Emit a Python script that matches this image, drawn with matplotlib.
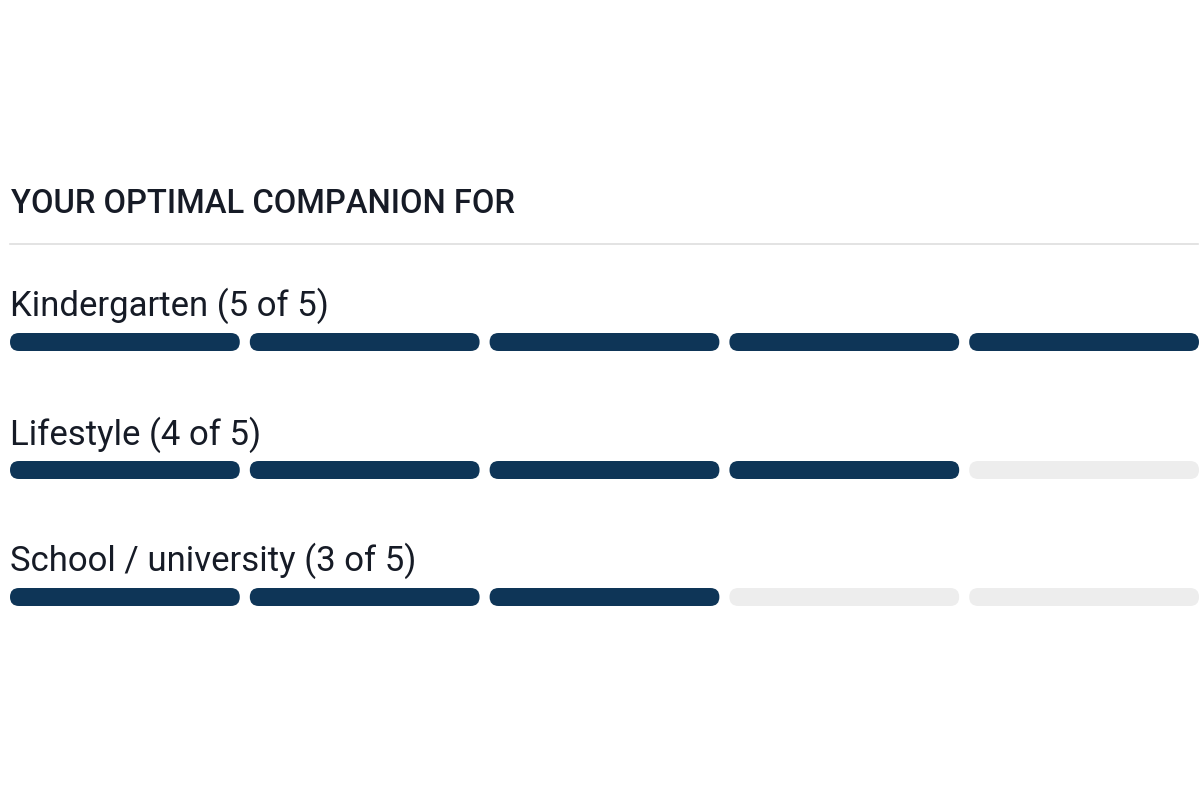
import matplotlib.pyplot as plt
from matplotlib.patches import FancyBboxPatch

# Data
title = "YOUR OPTIMAL COMPANION FOR"
categories = ["Kindergarten", "Lifestyle", "School / university"]
scores = [5, 4, 3]
max_score = 5

navy = "#0e3557"
empty = "#ededed"
text_dark = "#161b26"

fig = plt.figure(figsize=(12, 8), dpi=100)
fig.set_facecolor("white")
ax = fig.add_axes([0, 0, 1, 1])
ax.set_xlim(0, 1200)
ax.set_ylim(800, 0)
ax.axis("off")

# Header
ax.text(11, 213, title, fontsize=23.6, color=text_dark, fontweight="medium",
        family=["Roboto", "DejaVu Sans"], va="baseline")
ax.plot([10, 1198], [244, 244], color="#dedede", lw=1.2)

left, right, gap, bar_h = 10, 1199, 10, 18
seg_w = (right - left - gap * (max_score - 1)) / max_score
row_label_y = [316, 445, 571]
row_bar_y = [342, 470, 597]

for name, score, ly, by in zip(categories, scores, row_label_y, row_bar_y):
    ax.text(10, ly, f"{name} ({score} of {max_score})", fontsize=25,
            color=text_dark, family=["Roboto", "DejaVu Sans"], va="baseline")
    for i in range(max_score):
        x0 = left + i * (seg_w + gap)
        box = FancyBboxPatch((x0, by - bar_h / 2), seg_w, bar_h,
                             boxstyle=f"round,pad=0,rounding_size={bar_h / 2}",
                             facecolor=navy if i < score else empty,
                             edgecolor="none")
        ax.add_patch(box)

fig.savefig("out.png", dpi=100, facecolor="white")
plt.close(fig)
